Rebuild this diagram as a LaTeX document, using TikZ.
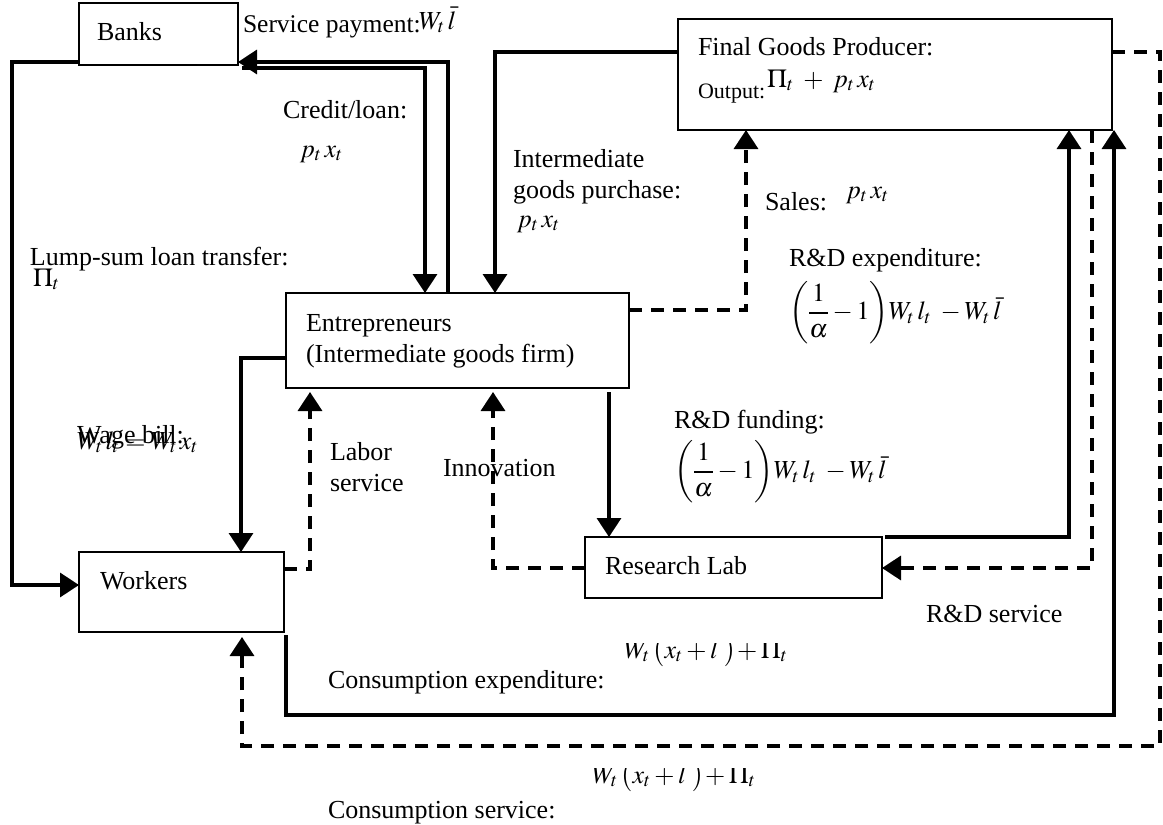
\documentclass[tikz,border=0pt]{standalone}
\usepackage{mathptmx}
\usepackage{fontspec}
\setmainfont{Liberation Serif}
\usetikzlibrary{arrows.meta,calc}

\tikzset{
  box/.style={draw, line width=1.3pt, inner sep=0pt, outer sep=0pt, anchor=north west},
  flow/.style={line width=3.4pt},
  svc/.style={line width=3.4pt, dash pattern=on 13pt off 9pt},
  tip/.style={-{Triangle[length=19pt,width=24pt]}},
  lbl/.style={anchor=base west, inner sep=0pt, outer sep=0pt, font=\fontsize{26}{31}\selectfont},
  mlbl/.style={anchor=west, inner sep=0pt, outer sep=0pt, font=\fontsize{26}{31}\selectfont},
}

\begin{document}
\begin{tikzpicture}[x=1pt,y=-1pt]
\useasboundingbox (0,0) rectangle (1163,825);

% sectors of the economy
\node[box, minimum width=159pt, minimum height=62pt]  (banks) at (79,3) {};
\node[box, minimum width=434pt, minimum height=111pt] (fgp)   at (678,19) {};
\node[box, minimum width=343pt, minimum height=95pt]  (ent)   at (286,293) {};
\node[box, minimum width=205pt, minimum height=80pt]  (wrk)   at (79,552) {};
\node[box, minimum width=297pt, minimum height=61pt]  (lab)   at (585,537) {};

% box captions
\node[lbl] (tBanks) at (97,40) {Banks};
\node[lbl] (tFgp) at (698,55) {Final Goods Producer:};
\node[lbl, font=\fontsize{22}{26}\selectfont] (tOut) at (698,98) {Output:};
\node[lbl] (tOutF) at ($(tOut.base east)+(2,-11)$) {$\Pi_t \;+\; p_t\,x_t$};
\node[lbl] (tEnt1) at (306,331) {Entrepreneurs};
\node[lbl] (tEnt2) at (306,362) {(Intermediate goods firm)};
\node[lbl] (tWrk) at (100,589) {Workers};
\node[lbl] (tLab) at (605,574) {Research Lab};

% money flows (solid) and real flows (dashed)
\draw[flow,tip] (banks.west |- 0,62) -- (12,62) -- (12,585) -- (wrk.west |- 0,585);
\draw[flow,tip] (ent.north -| 448,0) -- (448,62) -- (banks.east |- 0,62);
\draw[flow,tip] ($(banks.south east)+(4,3)$) -- (425,68) -- (ent.north -| 425,0);
\draw[flow,tip] (fgp.west |- 0,52) -- (495,52) -- (ent.north -| 495,0);
\draw[svc,tip] (ent.east |- 0,310) -- (746,310) -- (fgp.south -| 746,0);
\draw[flow,tip] ($(ent.south -| 609,0)+(0,4)$) -- (lab.north -| 609,0);
\draw[flow,tip] ($(lab.north east)+(3,0)$) -- (1069,537) -- (fgp.south -| 1069,0);
\draw[svc,tip] (fgp.south -| 1092,0) -- (1092,568) -- (lab.east |- 0,568);
\draw[svc,tip] (lab.west |- 0,568) -- (493,568) -- ($(ent.south -| 493,0)+(0,4)$);
\draw[svc,tip] (wrk.east |- 0,569) -- (310,569) -- ($(ent.south -| 310,0)+(0,4)$);
\draw[flow,tip] (ent.west |- 0,358) -- (241,358) -- (wrk.north -| 241,0);
\draw[flow,tip] ($(wrk.south east)+(2,3)$) -- (286,715) -- (1114,715) -- (fgp.south -| 1114,0);
\draw[svc,tip] (fgp.east |- 0,52) -- (1160,52) -- (1160,746) -- (242,746) -- ($(wrk.south -| 242,0)+(0,5)$);

% flow labels
\node[lbl, font=\fontsize{25.5}{30}\selectfont] (lSp) at (243,32) {Service payment:};
\node[lbl] (lSpF) at (419,29) {$W_t\,\bar{l}$};
\node[lbl] (lCr) at (283,118) {Credit/loan:};
\node[lbl] (lCrF) at (300,157) {$p_t\,x_t$};
\node[lbl] (lLs) at (30,265) {Lump-sum loan transfer:};
\node[lbl] (lLsF) at (33,286) {$\Pi_t$};
\node[lbl] (lIg1) at (513,167) {Intermediate};
\node[lbl] (lIg2) at (513,198) {goods purchase:};
\node[lbl] (lIgF) at (517,227) {$p_t\,x_t$};
\node[lbl] (lSa) at (765,210) {Sales:};
\node[lbl] (lSaF) at (846,198) {$p_t\,x_t$};
\node[lbl] (lRe) at (789,266) {R\&D expenditure:};
\node[mlbl] (lReF) at (789,313) {$\displaystyle\left(\frac{1}{\alpha}-1\right)\!W_t\,l_t \;-W_t\,\bar{l}$};
\node[lbl] (lWb) at (77,443) {Wage bill:};
\node[lbl] (lWbF) at (77,449) {$W_t\,l_t = W_t\,x_t$};
\node[lbl] (lLa1) at (330,460) {Labor};
\node[lbl] (lLa2) at (330,491) {service};
\node[lbl] (lIn) at (443,476) {Innovation};
\node[lbl] (lRf) at (674,428) {R\&D funding:};
\node[mlbl] (lRfF) at (674,472) {$\displaystyle\left(\frac{1}{\alpha}-1\right)\!W_t\,l_t \;-W_t\,\bar{l}$};
\node[lbl] (lRs) at (926,622) {R\&D service};
\node[lbl] (lCe) at (328,688) {Consumption expenditure:};
\node[lbl] (lCs) at (328,818) {Consumption service:};

% the two amount formulas, cut off along their top edge
\begin{scope}
  \clip (600,643) rectangle (820,680);
  \node[lbl] (lCeF) at (624,658) {$W_t\,\bigl(x_t+\bar{l}\;\bigr)\!+\Pi_t$};
\end{scope}
\begin{scope}
  \clip (570,768) rectangle (780,800);
  \node[lbl] (lCsF) at (592,783) {$W_t\,\bigl(x_t+\bar{l}\;\bigr)\!+\Pi_t$};
\end{scope}
\end{tikzpicture}
\end{document}
